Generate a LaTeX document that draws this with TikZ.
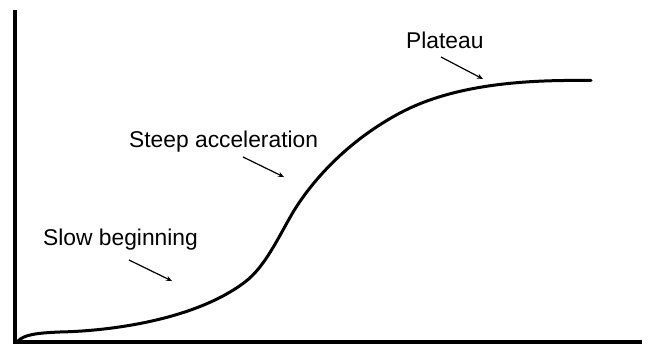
\documentclass[tikz,border=0pt]{standalone}
\usepackage{fontspec}
\setmainfont{Liberation Sans}
\usetikzlibrary{arrows.meta}
\begin{document}
\begin{tikzpicture}[x=1pt,y=-1pt,
  axis/.style={line width=3.8pt},
  curveline/.style={line width=3pt,line cap=round,line join=round},
  pointer/.style={line width=1.2pt,-{Stealth[length=6pt,width=5pt]}},
  lbl/.style={anchor=base west,inner sep=0pt,font=\fontsize{22.8}{27}\selectfont}]
\useasboundingbox (0,0) rectangle (654,344);
\fill[white] (0,0) rectangle (654,344);
\coordinate (top) at (15,10);
\coordinate (origin) at (15,342);
\coordinate (xend) at (642,342);
\draw[axis] (top) -- (origin) -- (xend);
\draw[curveline] (18,341) .. controls (24,335) and (35,333) .. (60,332)
  .. controls (110,331) and (195,320) .. (245,282)
  .. controls (265,266.8) and (278,238) .. (292,214)
  .. controls (306,190) and (340,145) .. (400,113)
  .. controls (460,81) and (540,80) .. (591,80.5);
\node[lbl] (plateau) at (406,49) {Plateau};
\node[lbl] (steep) at (129,148) {Steep acceleration};
\node[lbl] (slow) at (43,246) {Slow beginning};
\coordinate (pa) at (441,57); \coordinate (pb) at (483,79);
\coordinate (sa) at (243,157); \coordinate (sb) at (284,177);
\coordinate (la) at (129,260); \coordinate (lb) at (172,281);
\draw[pointer] (pa) -- (pb);
\draw[pointer] (sa) -- (sb);
\draw[pointer] (la) -- (lb);
\end{tikzpicture}
\end{document}
